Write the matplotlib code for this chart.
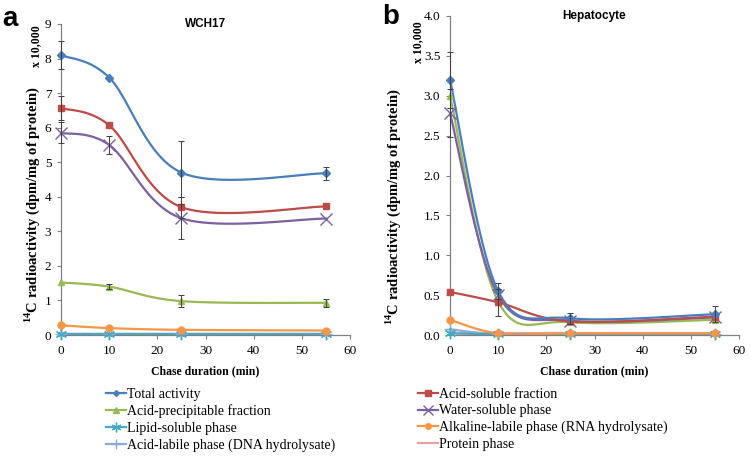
from matplotlib import pyplot as plt
from matplotlib.lines import Line2D
import numpy as np

plt.rcParams['font.family'] = ['Liberation Serif', 'DejaVu Serif']
plt.rcParams['mathtext.fontset'] = 'custom'
plt.rcParams['mathtext.rm'] = 'Liberation Serif:bold'
plt.rcParams['mathtext.bf'] = 'Liberation Serif:bold'

# chase duration (min), activity in units of 10,000 dpm/mg protein
times = [0, 10, 25, 55]

names = ['Total activity', 'Acid-soluble fraction', 'Acid-precipitable fraction',
         'Water-soluble phase', 'Lipid-soluble phase', 'Alkaline-labile phase (RNA hydrolysate)',
         'Acid-labile phase (DNA hydrolysate)', 'Protein phase']
colors = ['#4a7ebb', '#be4b48', '#98b954', '#7d60a0', '#46aac5', '#f79646', '#8fa8dc', '#e6a3a3']
markers = ['D', 's', '^', 'x', (6, 2, 0), 'o', '+', 'None']
msizes = [4, 5, 5, 8, 8, 5, 8, 0]

wch_vals = [
    [8.10, 7.45, 4.70, 4.68],
    [6.57, 6.07, 3.70, 3.72],
    [1.52, 1.40, 0.98, 0.93],
    [5.85, 5.50, 3.38, 3.37],
    [0.03, 0.03, 0.03, 0.03],
    [0.28, 0.20, 0.15, 0.13],
    [0.02, 0.02, 0.02, 0.02],
    [0.02, 0.02, 0.02, 0.02],
]
wch_err = [
    [0.40, 0.00, 0.90, 0.18],
    [0.35, 0.00, 0.30, 0.00],
    [0.00, 0.08, 0.17, 0.12],
    [0.30, 0.25, 0.60, 0.00],
    [0, 0, 0, 0], [0, 0, 0, 0], [0, 0, 0, 0], [0, 0, 0, 0],
]

hep_vals = [
    [3.20, 0.55, 0.21, 0.26],
    [0.54, 0.41, 0.17, 0.23],
    [3.00, 0.42, 0.16, 0.19],
    [2.78, 0.50, 0.18, 0.22],
    [0.02, 0.01, 0.01, 0.01],
    [0.19, 0.02, 0.02, 0.02],
    [0.07, 0.01, 0.01, 0.01],
    [0.02, 0.02, 0.02, 0.02],
]
hep_err = [
    [0.35, 0.10, 0.07, 0.10],
    [0.00, 0.17, 0.00, 0.00],
    [0.00, 0.00, 0.00, 0.00],
    [0.30, 0.00, 0.00, 0.00],
    [0, 0, 0, 0], [0, 0, 0, 0], [0, 0, 0, 0], [0, 0, 0, 0],
]


def smooth(x, y, sx, sy, n=40):
    # excel-style smoothed line (bezier through points), computed in pixel space
    px = np.array(x, float) * sx
    py = np.array(y, float) * sy
    P = np.column_stack([px, py])
    P = np.vstack([P[0], P, P[-1]])
    out = []
    t = np.linspace(0, 1, n)[:, None]
    for i in range(1, len(P) - 2):
        p0, p1, p2, p3 = P[i - 1], P[i], P[i + 1], P[i + 2]
        c1 = p1 + (p2 - p0) / 6
        c2 = p2 - (p3 - p1) / 6
        seg = (1 - t) ** 3 * p1 + 3 * (1 - t) ** 2 * t * c1 + 3 * (1 - t) * t ** 2 * c2 + t ** 3 * p2
        out.append(seg)
    out = np.vstack(out)
    return out[:, 0] / sx, out[:, 1] / sy


def panel(ax, vals, errs, ymax, yticks, fmt, title, w_px, h_px):
    sx = w_px / 60.0
    sy = h_px / ymax
    order = [7, 6, 4, 5, 2, 3, 1, 0]
    for i in order:
        xs, ys = smooth(times, vals[i], sx, sy)
        ax.plot(xs, ys, color=colors[i], lw=1.6, zorder=2)
        ax.plot(times, vals[i], linestyle='None', marker=markers[i], ms=msizes[i],
                color=colors[i], mew=1.0, zorder=3)
        e = np.array(errs[i], float)
        m = e > 0
        if m.any():
            ax.errorbar(np.array(times)[m], np.array(vals[i])[m], yerr=e[m], fmt='none',
                        ecolor='#404040', elinewidth=0.7, capsize=2, capthick=0.7, zorder=4)
    ax.set_xlim(0, 60)
    ax.set_ylim(0, ymax)
    ax.set_xticks(range(0, 61, 10))
    ax.set_yticks(yticks)
    ax.set_yticklabels([fmt.format(v) for v in yticks])
    for s in ['top', 'right']:
        ax.spines[s].set_visible(False)
    for s in ['left', 'bottom']:
        ax.spines[s].set_color('#808080')
        ax.spines[s].set_linewidth(0.9)
    ax.tick_params(axis='both', direction='out', length=3, width=0.8, color='#808080',
                   labelsize=9.5, pad=4)
    ax.set_xlabel('Chase duration (min)', fontsize=8.5, fontweight='bold', labelpad=6)
    ax.text(0.5, 1.0, title, transform=ax.transAxes, ha='center', va='center',
            fontsize=8.5, fontweight='bold', family='Liberation Sans')
    for line in ax.lines:
        line.set_clip_on(False)


fig = plt.figure(figsize=(7.51, 4.58), dpi=100)
W, H = 751.0, 458.0

ax1 = fig.add_axes([61 / W, 123 / H, 289 / W, 311 / H])
ax2 = fig.add_axes([450 / W, 123 / H, 289 / W, 319 / H])

panel(ax1, wch_vals, wch_err, 9, list(range(0, 10)), '{:d}', 'WCH17', 289, 311)
panel(ax2, hep_vals, hep_err, 4.0, [0, 0.5, 1, 1.5, 2, 2.5, 3, 3.5, 4], '{:.1f}', 'Hepatocyte', 289, 319)
ax1.set_yticklabels([str(v) for v in range(0, 10)])

ylab = r'$^{14}$C radioactivity (dpm/mg of protein)'
fig.text(32 / W, 1 - 205 / H, ylab, rotation=90, ha='center', va='center',
         fontsize=10.5, fontweight='bold')
fig.text(36 / W, 1 - 46 / H, 'x 10,000', rotation=90, ha='center', va='center',
         fontsize=8.5, fontweight='bold')
fig.text(393 / W, 1 - 207 / H, ylab, rotation=90, ha='center', va='center',
         fontsize=10.5, fontweight='bold')
fig.text(418 / W, 1 - 42 / H, 'x 10,000', rotation=90, ha='center', va='center',
         fontsize=8.5, fontweight='bold')

fig.text(2 / W, 1 - 6 / H, 'a', fontsize=20, fontweight='bold', family='Liberation Sans',
         ha='left', va='top')
fig.text(382 / W, 1 - 4 / H, 'b', fontsize=20, fontweight='bold', family='Liberation Sans',
         ha='left', va='top')


def handles(idx):
    return [Line2D([], [], color=colors[i], marker=markers[i], ms=max(msizes[i] - 1, 0),
                   lw=1.6, mew=1.0) for i in idx]


left_idx = [0, 2, 4, 6]
right_idx = [1, 3, 5, 7]
leg_kw = dict(loc='upper left', frameon=False, fontsize=10, handlelength=1.45,
              handletextpad=0.05, labelspacing=0.25, borderpad=0, borderaxespad=0)
fig.legend(handles(left_idx), [names[i] for i in left_idx],
           bbox_to_anchor=(106 / W, 1 - 388 / H), **leg_kw)
fig.legend(handles(right_idx), [names[i] for i in right_idx],
           bbox_to_anchor=(418 / W, 1 - 388 / H), **leg_kw)

fig.savefig('out.png', dpi=100)
